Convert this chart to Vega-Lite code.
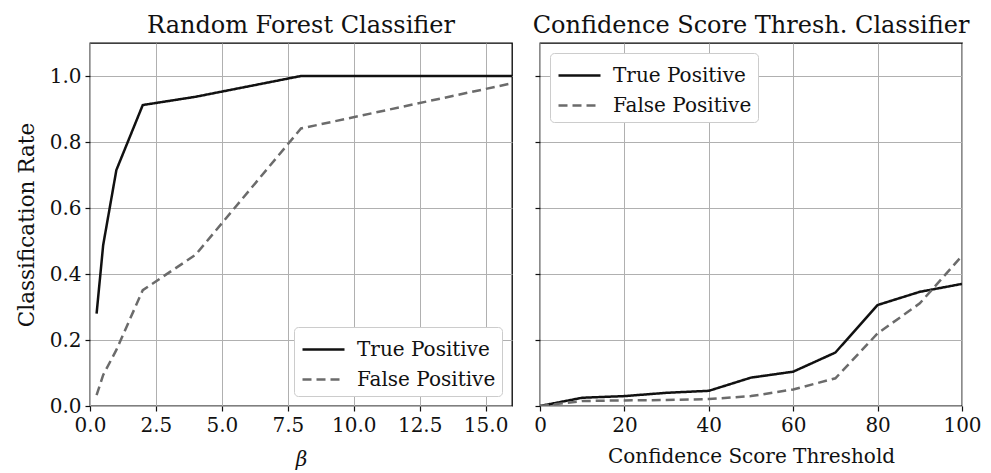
{
  "$schema": "https://vega.github.io/schema/vega-lite/v6.json",
  "padding": {"left": 15, "top": 13, "right": 0, "bottom": 0},
  "background": "white",
  "datasets": {
    "rf": [
      {"beta": 0.25, "rate": 0.28, "series": "True Positive"},
      {"beta": 0.5, "rate": 0.488, "series": "True Positive"},
      {"beta": 1, "rate": 0.715, "series": "True Positive"},
      {"beta": 2, "rate": 0.912, "series": "True Positive"},
      {"beta": 4, "rate": 0.937, "series": "True Positive"},
      {"beta": 8, "rate": 1.0, "series": "True Positive"},
      {"beta": 16, "rate": 1.0, "series": "True Positive"},
      {"beta": 0.25, "rate": 0.033, "series": "False Positive"},
      {"beta": 0.5, "rate": 0.094, "series": "False Positive"},
      {"beta": 1, "rate": 0.17, "series": "False Positive"},
      {"beta": 2, "rate": 0.351, "series": "False Positive"},
      {"beta": 4, "rate": 0.458, "series": "False Positive"},
      {"beta": 8, "rate": 0.841, "series": "False Positive"},
      {"beta": 16, "rate": 0.978, "series": "False Positive"}
    ],
    "cs": [
      {"thr": 0, "rate": 0.0, "series": "True Positive"},
      {"thr": 10, "rate": 0.025, "series": "True Positive"},
      {"thr": 20, "rate": 0.03, "series": "True Positive"},
      {"thr": 30, "rate": 0.04, "series": "True Positive"},
      {"thr": 40, "rate": 0.046, "series": "True Positive"},
      {"thr": 50, "rate": 0.086, "series": "True Positive"},
      {"thr": 60, "rate": 0.104, "series": "True Positive"},
      {"thr": 70, "rate": 0.162, "series": "True Positive"},
      {"thr": 80, "rate": 0.306, "series": "True Positive"},
      {"thr": 90, "rate": 0.346, "series": "True Positive"},
      {"thr": 100, "rate": 0.37, "series": "True Positive"},
      {"thr": 0, "rate": 0.0, "series": "False Positive"},
      {"thr": 10, "rate": 0.015, "series": "False Positive"},
      {"thr": 20, "rate": 0.017, "series": "False Positive"},
      {"thr": 30, "rate": 0.018, "series": "False Positive"},
      {"thr": 40, "rate": 0.021, "series": "False Positive"},
      {"thr": 50, "rate": 0.03, "series": "False Positive"},
      {"thr": 60, "rate": 0.05, "series": "False Positive"},
      {"thr": 70, "rate": 0.084, "series": "False Positive"},
      {"thr": 80, "rate": 0.22, "series": "False Positive"},
      {"thr": 90, "rate": 0.311, "series": "False Positive"},
      {"thr": 100, "rate": 0.455, "series": "False Positive"}
    ]
  },
  "config": {
    "font": "DejaVu Serif",
    "view": {"stroke": "black", "strokeWidth": 1.3},
    "concat": {"spacing": 18},
    "axis": {
      "labelFont": "DejaVu Serif",
      "titleFont": "DejaVu Serif",
      "labelFontSize": 20,
      "titleFontSize": 20,
      "labelColor": "#111",
      "titleColor": "#111",
      "titleFontWeight": "normal",
      "gridColor": "#b0b0b0",
      "gridWidth": 1,
      "gridOpacity": 1,
      "domain": false,
      "tickColor": "#111",
      "tickSize": 5,
      "tickWidth": 1.2,
      "labelPadding": 4,
      "labelFlush": false
    },
    "title": {"font": "DejaVu Serif", "fontSize": 24, "fontWeight": "normal", "color": "#111", "offset": 5},
    "legend": {
      "labelFont": "DejaVu Serif",
      "labelFontSize": 20,
      "labelColor": "#111",
      "symbolType": "M-1,0H1.8",
      "symbolSize": 900,
      "symbolStrokeWidth": 2.5,
      "symbolOffset": 1,
      "labelOffset": 23,
      "rowPadding": 3,
      "padding": 6,
      "fillColor": "white",
      "strokeColor": "#cccccc",
      "cornerRadius": 4,
      "offset": 10
    }
  },
  "resolve": {"legend": {"color": "independent", "strokeDash": "independent"}},
  "hconcat": [
    {
      "title": "Random Forest Classifier",
      "width": 422,
      "height": 363,
      "data": {"name": "rf"},
      "mark": {"type": "line", "strokeWidth": 2.5, "clip": true},
      "encoding": {
        "x": {"field": "beta", "type": "quantitative", "scale": {"domain": [0, 16], "nice": false, "zero": false},
              "axis": {"values": [0, 2.5, 5, 7.5, 10, 12.5, 15], "format": ".1f", "title": "β", "titleFontStyle": "italic", "titlePadding": 14}},
        "y": {"field": "rate", "type": "quantitative", "scale": {"domain": [0, 1.1], "nice": false},
              "axis": {"values": [0, 0.2, 0.4, 0.6, 0.8, 1.0], "format": ".1f", "title": "Classification Rate", "titleFontSize": 21.5, "titlePadding": 11}},
        "color": {"field": "series", "type": "nominal",
                  "scale": {"domain": ["True Positive", "False Positive"], "range": ["#111111", "#6b6b6b"]},
                  "legend": {"title": null, "orient": "bottom-right"}},
        "strokeDash": {"field": "series", "type": "nominal",
                  "scale": {"domain": ["True Positive", "False Positive"], "range": [[1, 0], [9, 5]]},
                  "legend": {"title": null, "orient": "bottom-right"}}
      }
    },
    {
      "title": "Confidence Score Thresh. Classifier",
      "width": 422,
      "height": 363,
      "data": {"name": "cs"},
      "mark": {"type": "line", "strokeWidth": 2.5, "clip": true},
      "encoding": {
        "x": {"field": "thr", "type": "quantitative", "scale": {"domain": [0, 100], "nice": false},
              "axis": {"values": [0, 20, 40, 60, 80, 100], "title": "Confidence Score Threshold", "titlePadding": 11}},
        "y": {"field": "rate", "type": "quantitative", "scale": {"domain": [0, 1.1], "nice": false},
              "axis": {"values": [0, 0.2, 0.4, 0.6, 0.8, 1.0], "labels": false, "title": null}},
        "color": {"field": "series", "type": "nominal",
                  "scale": {"domain": ["True Positive", "False Positive"], "range": ["#111111", "#6b6b6b"]},
                  "legend": {"title": null, "orient": "top-left"}},
        "strokeDash": {"field": "series", "type": "nominal",
                  "scale": {"domain": ["True Positive", "False Positive"], "range": [[1, 0], [9, 5]]},
                  "legend": {"title": null, "orient": "top-left"}}
      }
    }
  ]
}
